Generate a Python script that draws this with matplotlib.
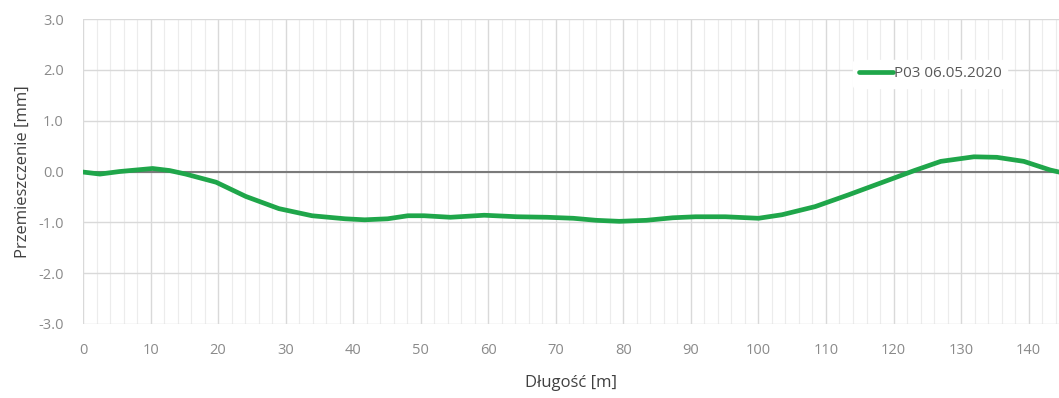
import matplotlib
matplotlib.use("Agg")
import matplotlib.pyplot as plt
import numpy as np

x = [0, 2.5, 5.4, 10.3, 12.8, 15.2, 19.7, 24.1, 29, 33.9, 38.8, 41.7, 45.1, 48.1, 50.5,
     54.4, 59.4, 64.3, 68.7, 72.6, 76, 79.4, 83.4, 87.3, 90.7, 95.1, 100, 103.5, 108.4,
     113.3, 118.2, 123.1, 127, 131.9, 135.3, 139.3, 143.2, 144.5]
y = [-0.01, -0.05, 0.0, 0.06, 0.02, -0.05, -0.21, -0.49, -0.73, -0.87, -0.93, -0.95, -0.93,
     -0.87, -0.87, -0.9, -0.86, -0.89, -0.9, -0.92, -0.96, -0.98, -0.96, -0.91, -0.89,
     -0.89, -0.92, -0.85, -0.69, -0.46, -0.22, 0.02, 0.2, 0.29, 0.28, 0.2, 0.03, -0.01]
series_label = "P03 06.05.2020"
xticks = list(range(0, 141, 10))
yticks = [-3.0, -2.0, -1.0, 0.0, 1.0, 2.0, 3.0]

plt.rcParams['font.family'] = ['Open Sans', 'DejaVu Sans']

fig = plt.figure(figsize=(10.59, 3.98), dpi=100)
ax = fig.add_axes([0.0784, 0.186, 0.9216, 0.766])

ax.set_xlim(0, 144.5)
ax.set_ylim(-3, 3)
ax.set_xticks(xticks)
ax.set_yticks(yticks)
ax.set_yticklabels([f"{v:.1f}" for v in yticks])
ax.set_xticks(np.arange(0, 145, 2), minor=True)
ax.grid(True, which='major', color='#d9d9d9', linewidth=1.0)
ax.grid(True, which='minor', axis='x', color='#ececec', linewidth=0.8)
ax.set_axisbelow(True)
for s in ax.spines.values():
    s.set_visible(False)
ax.tick_params(which='both', length=0, colors='#8a8a8a', labelsize=10.5)
ax.tick_params(axis='y', pad=14)
ax.tick_params(axis='x', pad=14)

ax.axhline(0, color='#7a7a7a', linewidth=1.5, zorder=2)
ax.plot(x, y, color='#1fa64a', linewidth=3.4, label=series_label, zorder=3,
        solid_capstyle='round', solid_joinstyle='round')

ax.set_xlabel("Długość [m]", fontsize=12, color='#404040', labelpad=12)
ax.set_ylabel("Przemieszczenie [mm]", fontsize=12, color='#404040', labelpad=5)

leg = ax.legend(loc='upper right', bbox_to_anchor=(0.955, 0.89), frameon=True,
                fontsize=11, handlelength=2.2, handletextpad=0.05, labelcolor='#595959')
leg.get_frame().set_facecolor('white')
leg.get_frame().set_edgecolor('white')
leg.get_frame().set_alpha(1)

fig.savefig("out.png", dpi=100)
